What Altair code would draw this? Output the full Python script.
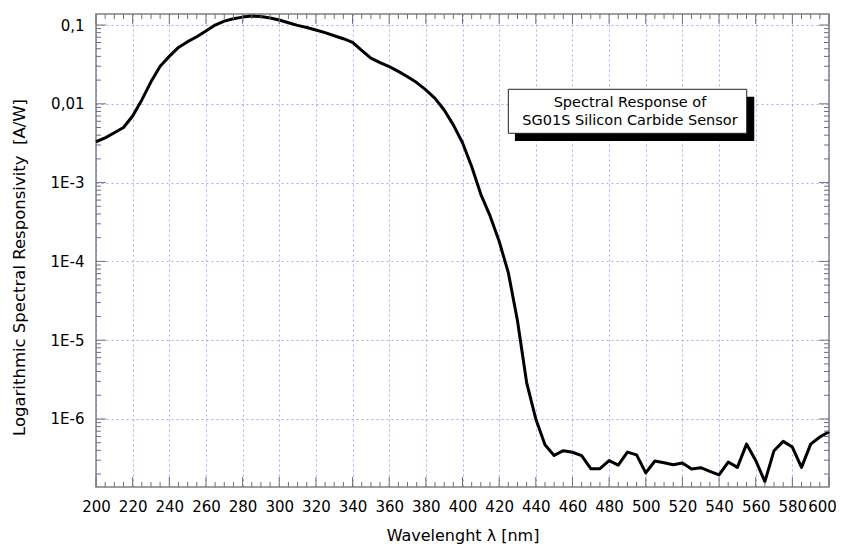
import altair as alt
import pandas as pd

# ---- data ----
wavelength = list(range(200, 605, 5))
responsivity = [
    3.3e-3, 3.7e-3, 4.3e-3, 5.0e-3, 7.0e-3, 0.0112, 0.019, 0.030, 0.040, 0.052,
    0.0615, 0.071, 0.084, 0.100, 0.112, 0.120, 0.126, 0.130, 0.128, 0.123,
    0.116, 0.107, 0.099, 0.093, 0.0865, 0.080, 0.073, 0.067, 0.0603, 0.0477,
    0.038, 0.0333, 0.0296, 0.0258, 0.0221, 0.0186, 0.015, 0.0117, 0.00835, 0.0054,
    0.0032, 1.6e-3, 7.1e-4, 3.8e-4, 1.8e-4, 7.2e-5, 1.76e-5, 2.9e-6, 1.0e-6, 4.7e-7,
    3.45e-7, 3.96e-7, 3.78e-7, 3.42e-7, 2.34e-7, 2.34e-7, 2.96e-7, 2.6e-7, 3.8e-7, 3.5e-7,
    2.07e-7, 2.93e-7, 2.79e-7, 2.63e-7, 2.77e-7, 2.32e-7, 2.41e-7, 2.16e-7, 1.95e-7, 2.84e-7,
    2.43e-7, 4.8e-7, 2.98e-7, 1.6e-7, 3.96e-7, 5.2e-7, 4.4e-7, 2.43e-7, 4.8e-7, 5.9e-7,
    6.9e-7,
]
x_major = list(range(200, 620, 20))
x_minor = list(range(200, 605, 5))
y_major = [1e-6, 1e-5, 1e-4, 1e-3, 1e-2, 1e-1]
x_domain = [200, 600]
y_domain = [1.37e-7, 0.138]

box_lines = ["Spectral Response of", "SG01S Silicon Carbide Sensor"]
box_wl = [425.0, 555.1]
box_r = [0.01528, 0.004224]
shadow_wl = [428.6, 559.2]
shadow_r = [0.01231, 0.003372]
text_wl = 491.4
text_r = [0.01033, 0.0061]

x_title = "Wavelenght λ [nm]"
y_title = "Logarithmic Spectral Responsivity \u00a0[A/W]"

# ---- layout ----
W, H = 733, 473
FONT = "DejaVu Sans"
TICK = "#707070"

curve = pd.DataFrame({"wl": wavelength, "r": responsivity})

xt = pd.DataFrame({"wl": x_minor, "len": [10 if v % 20 == 0 else 5 for v in x_minor]})
yt_vals = []
for e in range(-7, 0):
    for m in range(1, 10):
        v = m * 10.0 ** e
        if y_domain[0] <= v <= y_domain[1]:
            yt_vals.append((v, 10 if m == 1 else 5))
yt = pd.DataFrame({"r": [a for a, b in yt_vals], "len": [b for a, b in yt_vals]})

xscale = alt.Scale(domain=x_domain, nice=False, zero=False)
yscale = alt.Scale(type="log", domain=y_domain, nice=False)

xaxis = alt.Axis(
    values=x_major, title=x_title, grid=True, ticks=False, domain=False,
    labelFontSize=15, labelPadding=12, labelFont=FONT, labelColor="black",
    labelOffset={"condition": {"test": "datum.value >= 600", "value": -7}, "value": 0},
    titleFont=FONT, titleFontSize=16, titleFontWeight="normal", titleColor="black",
    titleY=53, titleBaseline="alphabetic",
    gridColor="#7070ff", gridOpacity=0.6, gridDash=[2, 3], gridWidth=1,
    labelFlush=False,
)
yaxis = alt.Axis(
    values=y_major, title=y_title, grid=True, ticks=False, domain=False,
    labelExpr="datum.value > 0.05 ? '0,1' : (datum.value > 0.005 ? '0,01' : '1E-' + round(-log(datum.value)/LN10))",
    labelFontSize=15, labelPadding=12, labelFont=FONT, labelColor="black",
    titleFont=FONT, titleFontSize=16.5, titleFontWeight="normal", titleColor="black",
    titleX=-72, titleY=253, titleBaseline="alphabetic", titleAlign="center", titleAngle=270,
    gridColor="#7070ff", gridOpacity=0.6, gridDash=[2, 3], gridWidth=1,
    labelFlush=False,
)

X = alt.X("wl:Q", scale=xscale, axis=xaxis)
Y = alt.Y("r:Q", scale=yscale, axis=yaxis)

line = alt.Chart(curve).mark_line(color="black", strokeWidth=3, strokeJoin="round").encode(x=X, y=Y)

tick_b_major = alt.Chart(xt[xt["len"] == 10]).mark_rule(color=TICK).encode(x=X, y=alt.value(H), y2=alt.value(H - 10))
tick_b_minor = alt.Chart(xt[xt["len"] == 5]).mark_rule(color=TICK).encode(x=X, y=alt.value(H), y2=alt.value(H - 5))
tick_t_major = alt.Chart(xt[xt["len"] == 10]).mark_rule(color=TICK).encode(x=X, y=alt.value(0), y2=alt.value(10))
tick_t_minor = alt.Chart(xt[xt["len"] == 5]).mark_rule(color=TICK).encode(x=X, y=alt.value(0), y2=alt.value(5))
tick_l_major = alt.Chart(yt[yt["len"] == 10]).mark_rule(color=TICK).encode(y=Y, x=alt.value(0), x2=alt.value(10))
tick_l_minor = alt.Chart(yt[yt["len"] == 5]).mark_rule(color=TICK).encode(y=Y, x=alt.value(0), x2=alt.value(5))
tick_r_major = alt.Chart(yt[yt["len"] == 10]).mark_rule(color=TICK).encode(y=Y, x=alt.value(W), x2=alt.value(W - 10))
tick_r_minor = alt.Chart(yt[yt["len"] == 5]).mark_rule(color=TICK).encode(y=Y, x=alt.value(W), x2=alt.value(W - 5))

shadow_df = pd.DataFrame({"wl": [shadow_wl[0]], "wl2": [shadow_wl[1]], "r": [shadow_r[0]], "r2": [shadow_r[1]]})
box_df = pd.DataFrame({"wl": [box_wl[0]], "wl2": [box_wl[1]], "r": [box_r[0]], "r2": [box_r[1]]})
text_df = pd.DataFrame({"wl": [text_wl, text_wl], "r": text_r, "t": box_lines})

shadow = alt.Chart(shadow_df).mark_rect(color="black").encode(
    x=X, x2="wl2:Q", y=Y, y2="r2:Q"
)
box = alt.Chart(box_df).mark_rect(fill="white", stroke="#222222", strokeWidth=1).encode(
    x=X, x2="wl2:Q", y=Y, y2="r2:Q"
)
txt = alt.Chart(text_df).mark_text(
    font=FONT, fontSize=14.5, color="black", align="center", baseline="middle"
).encode(x=X, y=Y, text="t:N")

chart = alt.layer(
    line, shadow, box, txt,
    tick_b_major, tick_b_minor, tick_t_major, tick_t_minor,
    tick_l_major, tick_l_minor, tick_r_major, tick_r_minor,
).properties(
    width=W, height=H,
    autosize=alt.AutoSizeParams(type="none"),
    padding={"left": 88, "top": 6, "right": 7, "bottom": 57},
    background="white",
).configure_view(stroke="#808080", strokeWidth=1.5)

chart.save("out.html", embed_options={"renderer": "svg", "actions": False})
